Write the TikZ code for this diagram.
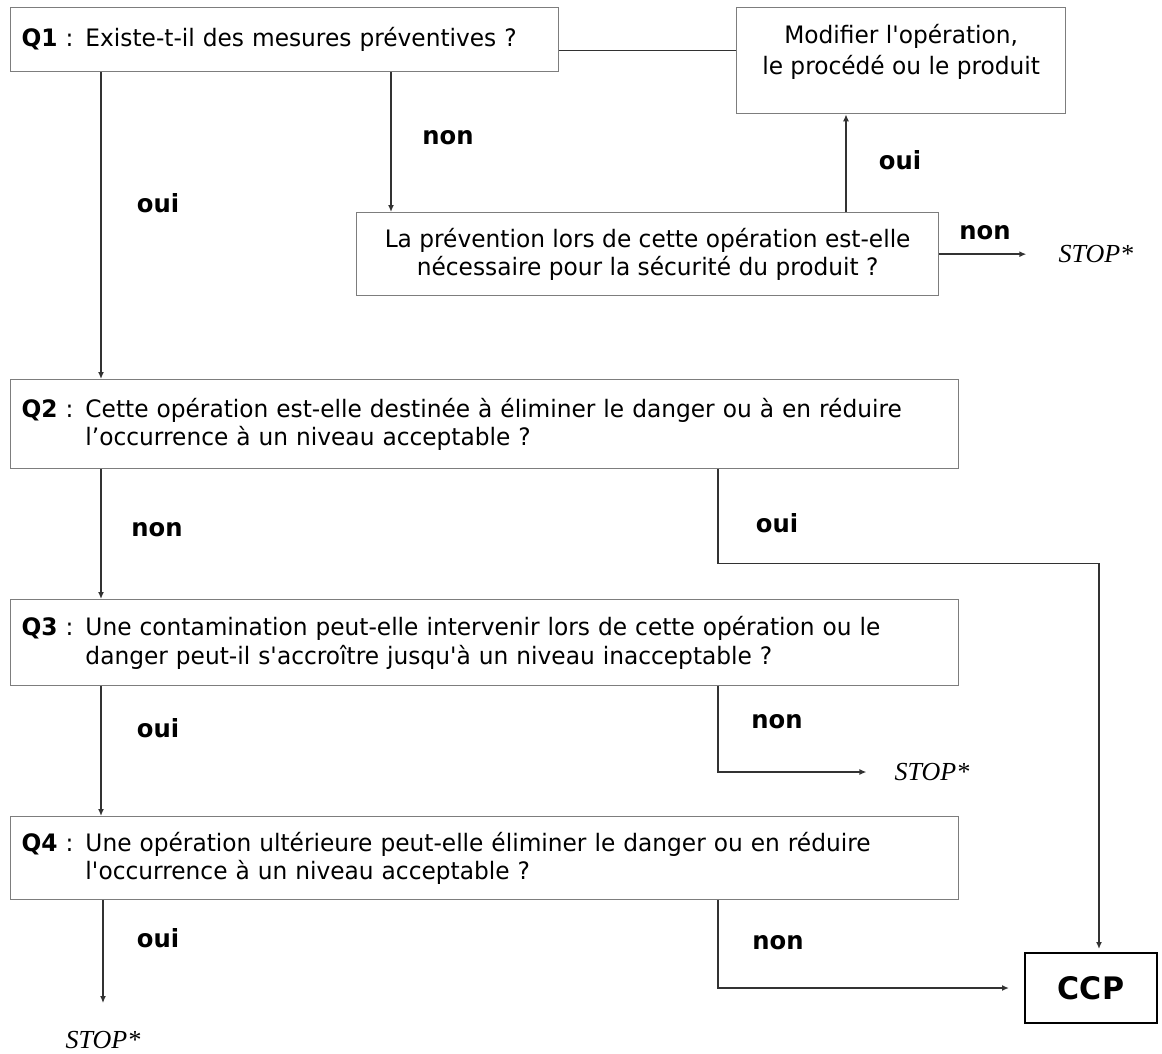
\documentclass[tikz,border=0pt]{standalone}
\usepackage{fontspec}
\setmainfont{DejaVu Sans}[FakeStretch=0.97]
\newfontfamily\stopfont{Liberation Serif}
\usepackage{tikz}
\usetikzlibrary{positioning,arrows.meta}
\definecolor{boxgray}{RGB}{125,125,125}
\definecolor{linegray}{RGB}{50,50,50}
\newcommand{\sq}{\textquotesingle}

\begin{document}
\begin{tikzpicture}[x=1pt, y=-1pt, font=\fontsize{24}{28.5}\selectfont,
    box/.style={draw=boxgray, line width=1.3pt, anchor=north west, inner xsep=11pt, align=left},
    qbox/.style={box, minimum width=948pt, text width=926pt},
    lab/.style={font=\fontsize{25}{28}\selectfont\bfseries},
    stop/.style={font=\fontsize{26}{28}\selectfont\stopfont\itshape, inner sep=0pt},
    link/.style={draw=linegray, line width=1.4pt},
    arr/.style={link, -{Latex[length=7pt,width=6pt]}}]
  \useasboundingbox (0,0) rectangle (1162,1053);

  % boxes
  \node[box, minimum width=548pt, text width=526pt, minimum height=64pt] (Q1) at (10,7) {\textbf{Q1} : Existe-t-il des mesures préventives ?};
  \node[box, minimum width=329pt, minimum height=106pt] (M) at (736,7) {};
  \node[align=center, below=14pt of M.north, font=\fontsize{24}{31}\selectfont] (MT) {Modifier l\sq opération,\\ le procédé ou le produit};
  \node[box, align=center, minimum width=582pt, minimum height=83pt, inner xsep=0pt] (P) at (356,212) {La prévention lors de cette opération est-elle\\ nécessaire pour la sécurité du produit ?};
  \node[qbox, minimum height=89pt] (Q2) at (10,379) {\textbf{Q2} : Cette opération est-elle destinée à éliminer le danger ou à en réduire\\ \hphantom{\textbf{Q2} : }l’occurrence à un niveau acceptable ?};
  \node[qbox, minimum height=86pt] (Q3) at (10,599) {\textbf{Q3} : Une contamination peut-elle intervenir lors de cette opération ou le\\ \hphantom{\textbf{Q3} : }danger peut-il s\sq accroître jusqu\sq à un niveau inacceptable ?};
  \node[qbox, minimum height=83pt] (Q4) at (10,816) {\textbf{Q4} : Une opération ultérieure peut-elle éliminer le danger ou en réduire\\ \hphantom{\textbf{Q4} : }l\sq occurrence à un niveau acceptable ?};
  \node[draw=black, line width=2pt, minimum width=132pt, minimum height=70pt, font=\fontsize{31}{34}\selectfont\bfseries] (C) at (1091,988) {CCP};

  % stops
  \node[stop, right=119pt of P] (S1) {STOP*};
  \node[stop] (S2) at (932,772) {STOP*};
  \node[stop] (S3) at (103,1040) {STOP*};

  % answers
  \node[lab] (n1) at (448,138) {non};
  \node[lab] (o1) at (158,203) {oui};
  \node[lab] (o2) at (900,160) {oui};
  \node[lab] (n2) at (985,233) {non};
  \node[lab] (n3) at (157,530) {non};
  \node[lab] (o3) at (777,523) {oui};
  \node[lab] (n4) at (777,722) {non};
  \node[lab] (o4) at (158,728) {oui};
  \node[lab] (o5) at (158,938) {oui};
  \node[lab] (n5) at (778,943) {non};

  % connectors
  \draw[link] ([yshift=-11pt]Q1.east) -- ([yshift=-11pt]Q1.east -| M.west);
  \draw[arr] ([xshift=35pt]P.north west |- Q1.south) -- ([xshift=35pt]P.north west);
  \draw[arr] ([xshift=91pt]Q1.south west) -- ([xshift=91pt]Q2.north west);
  \draw[arr] ([xshift=110pt]M.south west |- P.north) -- ([xshift=110pt]M.south west);
  \draw[arr, shorten >=32pt] (P.east) -- (S1.west);
  \draw[arr] ([xshift=91pt]Q2.south west) -- ([xshift=91pt]Q3.north west);
  \draw[arr, shorten >=3pt] ([xshift=708pt]Q2.south west) -- ++(0,94) -| ([xshift=8pt]C.north);
  \draw[arr, shorten >=28pt] ([xshift=708pt]Q3.south west) |- (S2);
  \draw[arr] ([xshift=91pt]Q3.south west) -- ([xshift=91pt]Q4.north west);
  \draw[arr, shorten >=28pt] (S3 |- Q4.south) -- (S3);
  \draw[arr, shorten >=15pt] ([xshift=708pt]Q4.south west) |- (C.west);
\end{tikzpicture}
\end{document}
